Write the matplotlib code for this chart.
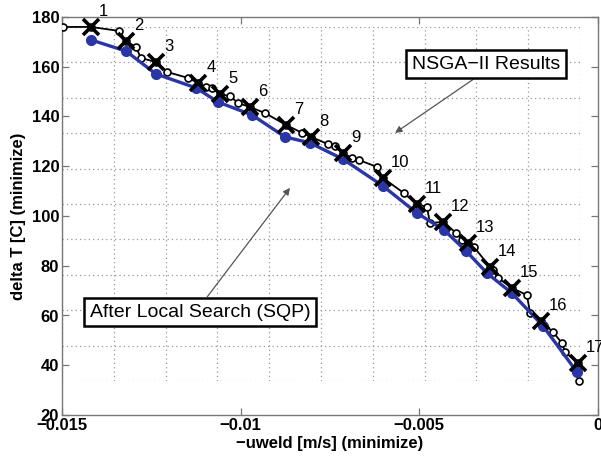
import matplotlib
matplotlib.use("Agg")
import matplotlib.pyplot as plt

plt.rcParams['font.family'] = ['Liberation Sans', 'DejaVu Sans']

# NSGA-II front (black line with open circles)
nsga_x = [-0.01497, -0.01419, -0.01340, -0.01321, -0.01293, -0.01279, -0.01237, -0.01206,
          -0.01147, -0.01119, -0.01097, -0.01080, -0.01058, -0.01030, -0.01007, -0.00974,
          -0.00932, -0.00873, -0.00828, -0.00803, -0.00756, -0.00736, -0.00714, -0.00688,
          -0.00669, -0.00618, -0.00602, -0.00543, -0.00507, -0.00479, -0.00470, -0.00434,
          -0.00397, -0.00381, -0.00364, -0.00347, -0.00302, -0.00294, -0.00280, -0.00241,
          -0.00199, -0.00190, -0.00160, -0.00126, -0.00101, -0.00092, -0.00056, -0.00053]
nsga_y = [176.0, 176.0, 174.4, 170.4, 167.9, 163.5, 161.9, 157.9,
          155.5, 153.5, 151.9, 151.5, 149.0, 148.2, 145.4, 143.8,
          141.4, 136.6, 133.4, 131.8, 128.9, 128.1, 125.3, 123.3,
          122.5, 119.7, 115.3, 109.2, 104.8, 103.6, 97.2, 97.6,
          93.2, 90.4, 89.1, 87.5, 79.5, 78.3, 75.1, 71.1,
          68.2, 61.0, 57.8, 53.4, 48.9, 45.3, 40.9, 33.7]

# Selected starting points (X markers, numbered)
sel_labels = [str(i) for i in range(1, 18)]
sel_x = [-0.01419, -0.01321, -0.01237, -0.01119, -0.01058, -0.00974, -0.00873, -0.00803,
         -0.00714, -0.00602, -0.00507, -0.00434, -0.00364, -0.00302, -0.00241, -0.00160, -0.00056]
sel_y = [176.0, 170.4, 161.9, 153.5, 149.0, 143.8, 136.6, 131.8,
         125.3, 115.3, 104.8, 97.6, 89.1, 79.5, 71.1, 57.8, 40.9]

# After local search (SQP) - blue line
sqp_x = [-0.01419, -0.01321, -0.01237, -0.01125, -0.01063, -0.00968, -0.00876, -0.00806,
         -0.00714, -0.00602, -0.00507, -0.00431, -0.00369, -0.00311, -0.00241, -0.00154, -0.00059]
sqp_y = [170.8, 166.3, 157.1, 151.5, 145.8, 140.6, 131.8, 129.4,
         122.9, 112.1, 101.2, 94.4, 85.9, 77.1, 69.0, 55.8, 37.3]

x_ticks = [-0.015, -0.01, -0.005, 0]
x_ticklabels = ['\u22120.015', '\u22120.01', '\u22120.005', '0']
y_ticks = [20, 40, 60, 80, 100, 120, 140, 160, 180]

fig = plt.figure(figsize=(6.01, 4.61), dpi=100)

# separate dotted grid layer (not aligned with the ticks, as in the original)
gax = fig.add_axes([62/601, (461-381)/461, 518/601, 354/461])
gax.set_xlim(0, 10)
gax.set_ylim(0, 10)
gax.set_xticks(range(11))
gax.set_yticks(range(11))
gax.grid(True, linestyle=(0, (1, 2.5)), color='#999999', linewidth=0.9)
gax.tick_params(length=0, labelbottom=False, labelleft=False)
for s in gax.spines.values():
    s.set_visible(False)
gax.patch.set_alpha(0)

ax = fig.add_axes([62/601, (461-415)/461, 536/601, 398/461])
ax.patch.set_alpha(0)
ax.set_xlim(-0.015, 0)
ax.set_ylim(20, 180)

ax.plot(nsga_x, nsga_y, '-', color='black', linewidth=1.3, marker='o',
        markersize=5, markerfacecolor='white', markeredgecolor='black',
        markeredgewidth=1.2, zorder=3)
ax.plot(sqp_x, sqp_y, '-', color='#2b36a6', linewidth=2.4, marker='o',
        markersize=7, markerfacecolor='#2b36a6', markeredgecolor='#2b36a6', zorder=4)
ax.plot(sel_x, sel_y, linestyle='none', marker='x', markersize=11,
        markeredgewidth=2.6, color='black', zorder=5)

for lab, xv, yv in zip(sel_labels, sel_x, sel_y):
    ax.annotate(lab, (xv, yv), xytext=(8, 8), textcoords='offset pixels',
                fontsize=12, ha='left', va='bottom', zorder=6)

ax.set_xticks(x_ticks)
ax.set_xticklabels(x_ticklabels)
ax.set_yticks(y_ticks)
ax.tick_params(direction='in', length=5, width=0.9, top=True, right=True,
               labelsize=12, colors='#777777', labelcolor='black', pad=2)
for lbl in ax.get_xticklabels() + ax.get_yticklabels():
    lbl.set_fontweight('bold')
for s in ax.spines.values():
    s.set_color('#777777')
    s.set_linewidth(1.0)

ax.set_xlabel('\u2212uweld [m/s] (minimize)', fontsize=12, fontweight='bold', labelpad=2)
ax.set_ylabel('delta T [C] (minimize)', fontsize=12, fontweight='bold', labelpad=4)

ax.annotate('NSGA\u2212II Results', xy=(-0.00568, 133.4), xytext=(-0.00313, 161.1),
            fontsize=14, ha='center', va='center', zorder=7,
            bbox=dict(boxstyle='square,pad=0.3', facecolor='white', edgecolor='black', linewidth=1.8),
            arrowprops=dict(arrowstyle='-|>', color='#555555', linewidth=0.9,
                            mutation_scale=10, relpos=(0.48, 0), shrinkA=0, shrinkB=0))
ax.annotate('After Local Search (SQP)', xy=(-0.00862, 111.3), xytext=(-0.01114, 61.4),
            fontsize=14, ha='center', va='center', zorder=7,
            bbox=dict(boxstyle='square,pad=0.3', facecolor='white', edgecolor='black', linewidth=1.8),
            arrowprops=dict(arrowstyle='-|>', color='#555555', linewidth=0.9,
                            mutation_scale=10, relpos=(0.51, 1), shrinkA=0, shrinkB=0))

fig.savefig('out.png', dpi=100)
